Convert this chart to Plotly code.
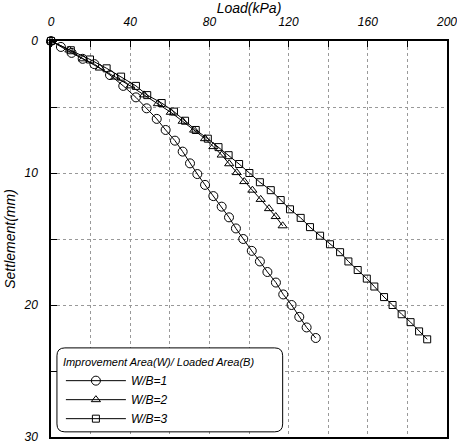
import plotly.graph_objects as go

# W/B=1 (circles)
load_wb1 = [0, 5, 10.4, 16, 21.9, 29.8, 36.5, 42.9, 48.3, 53.4, 57.9, 62.6, 66.5, 70.2, 73.9,
            77.8, 82, 86.2, 89.9, 93.4, 97.1, 101.4, 105.5, 109.3, 113.6, 117.3, 121.5,
            125.4, 129.1, 133.7]
set_wb1 = [0, 0.45, 0.9, 1.35, 1.75, 2.58, 3.4, 4.27, 5.1, 5.9, 6.74, 7.55, 8.38, 9.27, 10.08,
           10.9, 11.75, 12.55, 13.36, 14.2, 15.0, 15.9, 16.7, 17.5, 18.3, 19.2, 20.0,
           20.9, 21.7, 22.5]

# W/B=2 (triangles)
load_wb2 = [0, 9.3, 16.3, 24.7, 32.5, 40, 47, 54, 60.5, 66.5, 72.3, 77.8, 82, 86.2, 90,
            93.8, 97.6, 101.7, 105.9, 110.1, 113.5, 117]
set_wb2 = [0, 0.68, 1.35, 2.05, 2.73, 3.4, 4.08, 4.75, 5.4, 6.08, 6.75, 7.4, 8.0, 8.64, 9.3,
           9.97, 10.65, 11.3, 12.0, 12.7, 13.3, 14.0]

# W/B=3 (squares)
load_wb3 = [0, 10, 19.7, 28.1, 35.4, 42.9, 48.6, 55.9, 62.1, 67.7, 73.1, 79.2, 84.6, 89.7,
            95.0, 100.2, 105.5, 111, 116, 120.7, 126.1, 130.8, 135.9, 140.9, 146, 150.2,
            154.9, 159.5, 163.3, 168.2, 172.5, 177.1, 181.6, 185.9, 190]
set_wb3 = [0, 0.7, 1.4, 2.07, 2.7, 3.4, 4.1, 4.7, 5.35, 6.04, 6.74, 7.4, 8.04, 8.65,
           9.32, 10.0, 10.7, 11.3, 12.05, 12.75, 13.4, 14.1, 14.75, 15.4, 16.0, 16.7,
           17.35, 18.0, 18.6, 19.4, 20.0, 20.7, 21.3, 22.0, 22.6]

series_names = ["W/B=1", "W/B=2", "W/B=3"]
x_ticks = [0, 40, 80, 120, 160, 200]
y_ticks = [0, 10, 20, 30]

FONT = "Liberation Sans, Arial, Helvetica, sans-serif"
ITAL = dict(family=FONT, color="black", style="italic")

fig = go.Figure()
specs = [(load_wb1, set_wb1, "circle-open", 9),
         (load_wb2, set_wb2, "triangle-up-open", 8),
         (load_wb3, set_wb3, "square-open", 7)]
for (xs, ys, sym, sz), name in zip(specs, series_names):
    fig.add_trace(go.Scatter(
        x=xs, y=ys, mode="lines+markers", name=name,
        line=dict(color="black", width=1),
        marker=dict(symbol=sym, size=sz, color="black", line=dict(color="black", width=1)),
        cliponaxis=False,
    ))

fig.update_layout(
    template="none",
    width=457, height=444,
    margin=dict(l=51, r=10, t=41, b=7),
    paper_bgcolor="white", plot_bgcolor="white",
    font=dict(size=12, **ITAL),
    showlegend=True,
    legend=dict(
        x=0.025, y=0.215, xanchor="left", yanchor="top",
        bgcolor="rgba(255,255,255,0)", borderwidth=0,
        title=dict(text="Improvement Area(W)/ Loaded Area(B)", font=dict(size=11, **ITAL)),
        font=dict(size=12, **ITAL),
        itemwidth=60, tracegroupgap=0,
    ),
    xaxis=dict(
        side="top", range=[0, 200], tickvals=x_ticks, automargin=False,
        ticks="", ticklabeloverflow="allow", ticklabelstandoff=8,
        showgrid=True, gridcolor="#999", griddash="dot", gridwidth=1,
        minor=dict(dtick=20, tick0=0, showgrid=True, gridcolor="#999", griddash="dot",
                   ticks="inside", ticklen=6, tickcolor="black"),
        showline=True, linecolor="black", linewidth=1.5, mirror=True,
        zeroline=False,
        title=dict(text="Load(kPa)", font=dict(size=14, **ITAL), standoff=0),
        tickfont=dict(size=12, **ITAL),
    ),
    yaxis=dict(
        range=[30, 0], tickvals=y_ticks, automargin=False,
        ticks="", ticklabeloverflow="allow", ticklabelstandoff=9,
        showgrid=True, gridcolor="#999", griddash="dot", gridwidth=1,
        minor=dict(dtick=5, tick0=0, showgrid=True, gridcolor="#999", griddash="dot",
                   ticks="inside", ticklen=6, tickcolor="black"),
        showline=True, linecolor="black", linewidth=1.5, mirror=True,
        zeroline=False,
        title=dict(text="Settlement(mm)", font=dict(size=14, **ITAL), standoff=5),
        tickfont=dict(size=12, **ITAL),
    ),
)

# rounded legend frame
x0, x1, y0, y1, r = 0.015, 0.585, 0.013, 0.225, 0.02
path = (f"M {x0+r},{y0} L {x1-r},{y0} Q {x1},{y0} {x1},{y0+r} "
        f"L {x1},{y1-r} Q {x1},{y1} {x1-r},{y1} L {x0+r},{y1} Q {x0},{y1} {x0},{y1-r} "
        f"L {x0},{y0+r} Q {x0},{y0} {x0+r},{y0} Z")
fig.add_shape(type="path", path=path, xref="paper", yref="paper", opacity=1,
              line=dict(color="black", width=1), fillcolor="white", layer="above")

fig.write_html("out.html", config={"displayModeBar": False},
               post_script="document.body.style.margin='0';")
